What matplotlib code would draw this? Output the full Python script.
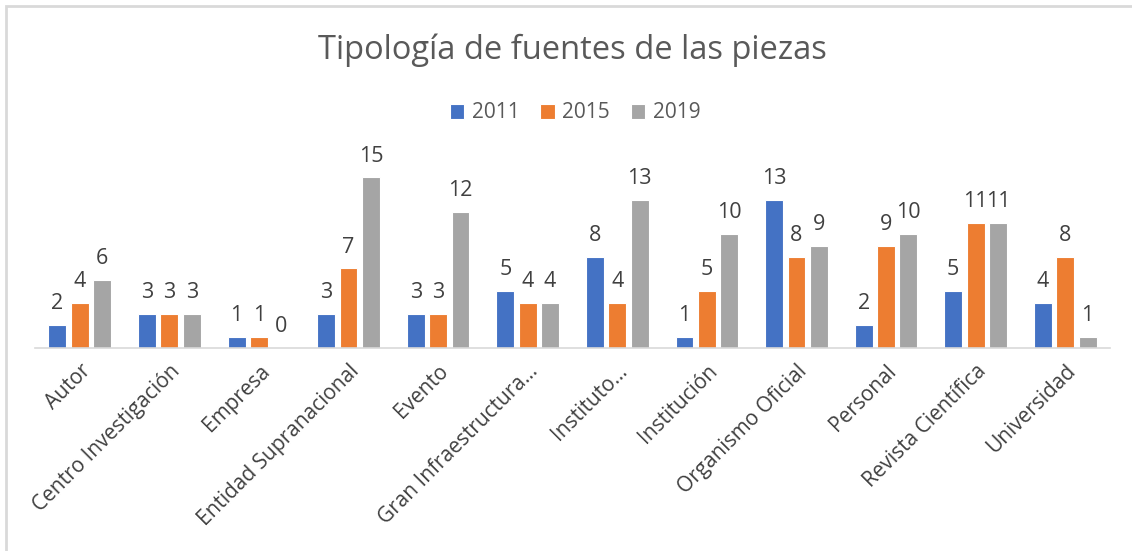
import matplotlib.pyplot as plt
import numpy as np
from matplotlib.patches import Rectangle

categories = ['Autor', 'Centro Investigación', 'Empresa', 'Entidad Supranacional',
              'Evento', 'Gran Infraestructura…', 'Instituto…', 'Institución',
              'Organismo Oficial', 'Personal', 'Revista Científica', 'Universidad']
years = ['2011', '2015', '2019']
v2011 = [2, 3, 1, 3, 3, 5, 8, 1, 13, 2, 5, 4]
v2015 = [4, 3, 1, 7, 3, 4, 4, 5, 8, 9, 11, 8]
v2019 = [6, 3, 0, 15, 12, 4, 13, 10, 9, 10, 11, 1]
colors = ['#4472C4', '#ED7D31', '#A5A5A5']

plt.rcParams['font.family'] = ['Open Sans', 'DejaVu Sans']
text_color = '#404040'

fig = plt.figure(figsize=(11.32, 5.51), dpi=100)
ax = fig.add_axes([35 / 1132, 1 - 348 / 551, 1075 / 1132, 182 / 551])

x = np.arange(len(categories))
width = 0.2
offsets = [-0.25, 0, 0.25]
for vals, name, col, off in zip([v2011, v2015, v2019], years, colors, offsets):
    ax.bar(x + off, vals, width, color=col, label=name,
           edgecolor='white', linewidth=0.8)
    # value labels above the bars
    for xi, v in zip(x + off, vals):
        ax.text(xi, v + 0.95, str(v), ha='center', va='bottom',
                fontsize=15.5, color=text_color, clip_on=False)

ax.set_xlim(-0.5, len(categories) - 0.5)
ax.set_ylim(0, 16)
ax.set_yticks([])
for s in ['top', 'right', 'left']:
    ax.spines[s].set_visible(False)
ax.spines['bottom'].set_color('#D9D9D9')
ax.spines['bottom'].set_linewidth(1.2)
ax.tick_params(axis='x', length=0, pad=9)
ax.set_xticks(x)
ax.set_xticklabels(categories, rotation=45, ha='right', rotation_mode='anchor',
                   fontsize=15, color=text_color)

fig.text(0.506, 1 - 50 / 551, 'Tipología de fuentes de las piezas', ha='center',
         va='center', fontsize=23.5, color='#595959')
fig.legend(loc='center', bbox_to_anchor=(0.508, 1 - 113 / 551), ncol=3,
           frameon=False, fontsize=15, handlelength=0.7, handleheight=0.7,
           handletextpad=0.35, columnspacing=1.0, labelcolor='#595959')

# light grey chart border
fig.patches.append(Rectangle((6 / 1132, -0.02), 1.1, 1 - 6 / 551 + 0.02,
                             transform=fig.transFigure, fill=False,
                             edgecolor='#D9D9D9', linewidth=2))

fig.savefig('out.png', dpi=100)
